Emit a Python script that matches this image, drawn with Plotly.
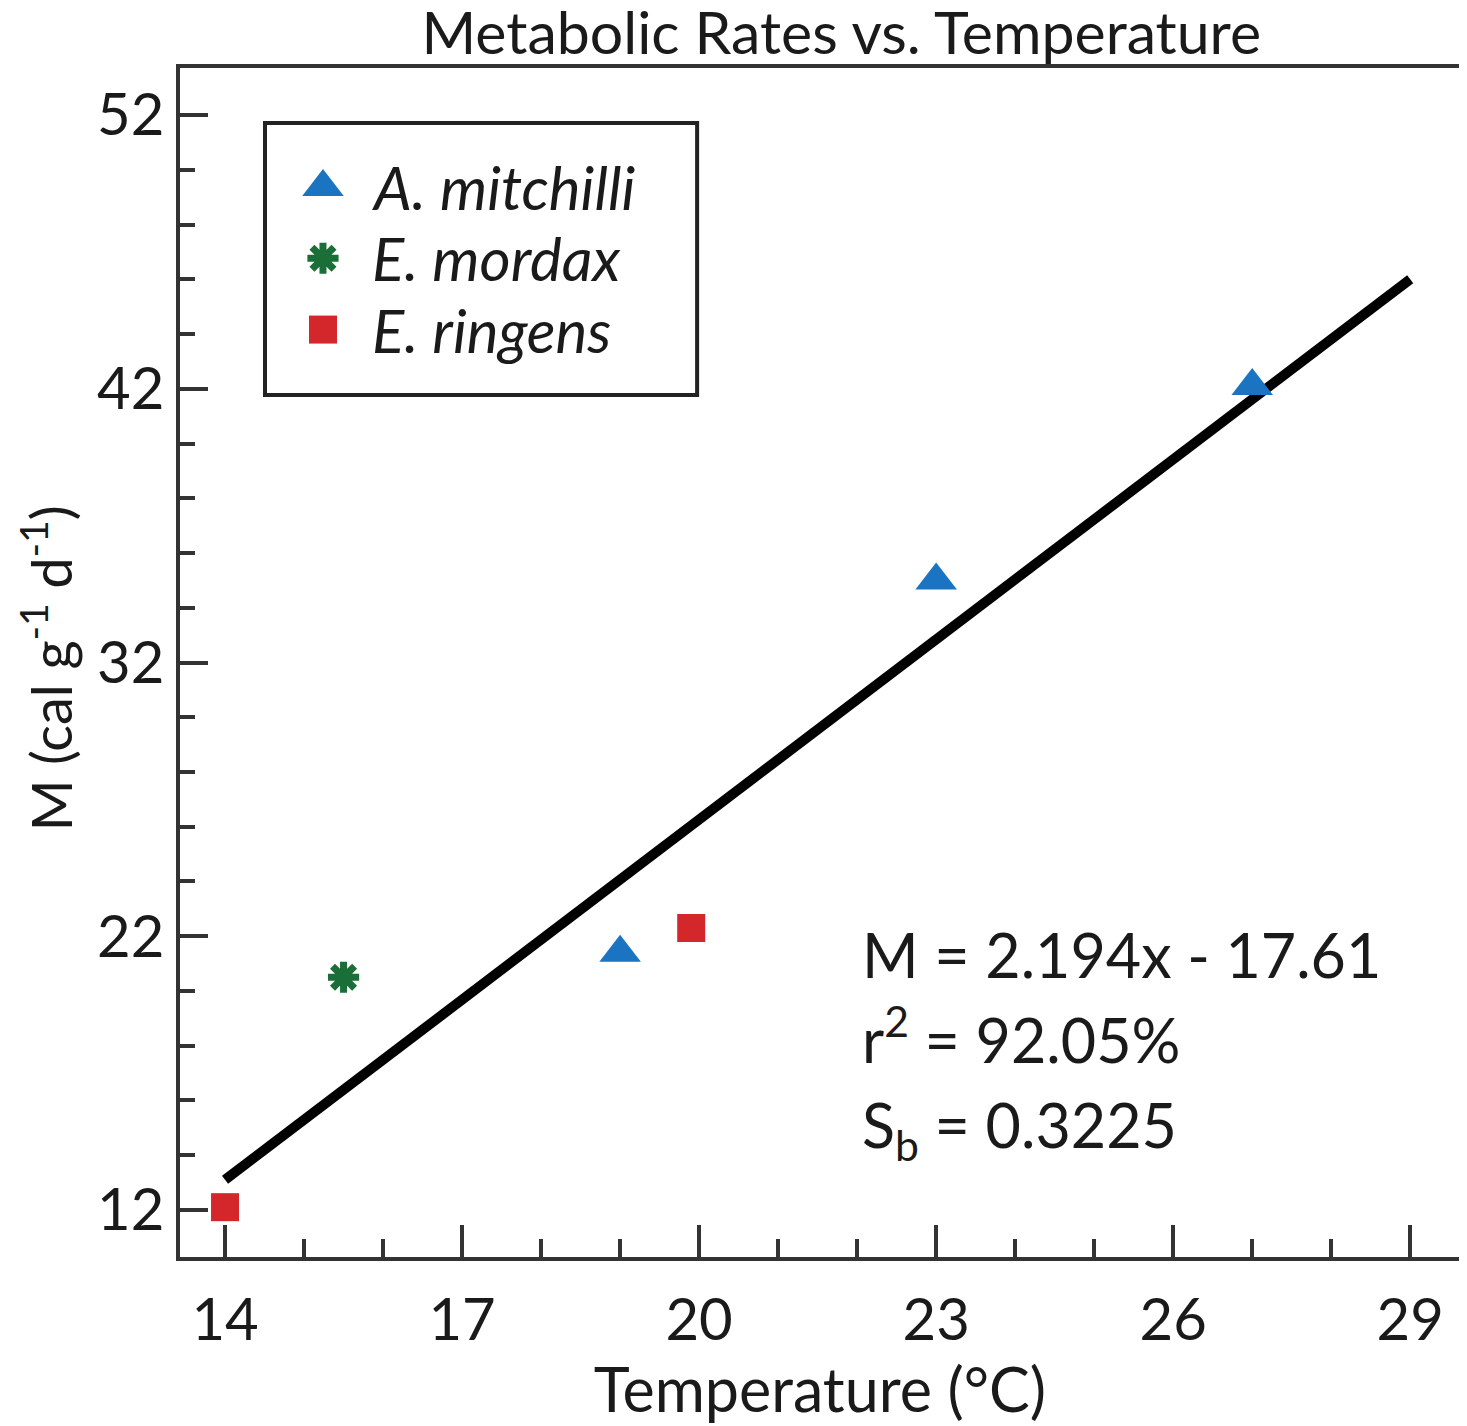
import plotly.graph_objects as go

# species measurements (temperature in degC, metabolic rate in cal g-1 d-1)
mitchilli_x = [19, 23, 27]
mitchilli_y = [21.4, 35.0, 42.1]
mordax_x = [15.5]
mordax_y = [20.5]
ringens_x = [14, 19.9]
ringens_y = [12.1, 22.3]

# regression line end points
fit_x = [14, 29]
fit_y = [13.1, 46.0]

x_ticks = [14, 17, 20, 23, 26, 29]
y_ticks = [12, 22, 32, 42, 52]

species = ["A. mitchilli", "E. mordax", "E. ringens"]
stats_lines = ["M = 2.194x - 17.61", "r<sup>2</sup> = 92.05%", "S<sub>b</sub> = 0.3225"]

FONT = "Lato"
TEXT = "#1a1a1a"
AXIS = "#333333"

styles = [
    dict(symbol="triangle-up", size=36, color="#1b74c1"),
    dict(symbol="asterisk", size=26, line=dict(color="#1a6e38", width=7)),
    dict(symbol="square", size=28, color="#d3272c"),
]

fig = go.Figure()

fig.add_trace(go.Scatter(x=fit_x, y=fit_y, mode="lines",
                         line=dict(color="black", width=10),
                         showlegend=False, hoverinfo="skip"))

for name, xs, ys, st in zip(species, [mitchilli_x, mordax_x, ringens_x],
                            [mitchilli_y, mordax_y, ringens_y], styles):
    fig.add_trace(go.Scatter(x=xs, y=ys, mode="markers", name=name,
                             marker=st, showlegend=False))

# hand-made legend box (plotly caps legend symbol sizes)
leg_x0, leg_x1, leg_y0, leg_y1 = 0.0664, 0.404, 0.725, 0.9537
leg_rows = [0.900, 0.840, 0.780]
fig.add_shape(type="rect", xref="paper", yref="paper",
              x0=leg_x0, x1=leg_x1, y0=leg_y0, y1=leg_y1,
              line=dict(color="#222222", width=4), fillcolor="white", layer="below")
for name, row, st in zip(species, leg_rows, styles):
    fig.add_trace(go.Scatter(x=[0.1117], y=[row], mode="markers", marker=st,
                             xaxis="x2", yaxis="y2", showlegend=False, hoverinfo="skip"))
    fig.add_annotation(xref="paper", yref="paper", x=0.1484, y=row,
                       xanchor="left", yanchor="middle", showarrow=False,
                       text=f"<i>{name}</i>",
                       font=dict(family=FONT, size=60, color=TEXT))

# regression statistics, one line each
for line, ypos in zip(stats_lines, [0.254, 0.1867, 0.108]):
    fig.add_annotation(xref="paper", yref="paper", x=0.531, y=ypos,
                       xanchor="left", yanchor="middle", showarrow=False,
                       text=line, font=dict(family=FONT, size=61, color=TEXT))

# y axis title as a rotated annotation so its position can be set exactly
fig.add_annotation(xref="paper", yref="paper", x=-0.104, y=0.495,
                   xanchor="center", yanchor="middle", showarrow=False,
                   textangle=-90, text="M (cal g<sup>-1</sup> d<sup>-1</sup>)",
                   font=dict(family=FONT, size=56, color=TEXT))

axis_common = dict(
    showline=True, linecolor=AXIS, linewidth=4, mirror=True,
    ticks="inside", tickcolor=AXIS, tickwidth=4,
    showgrid=False, zeroline=False,
    tickfont=dict(family=FONT, size=58, color=TEXT),
)

fig.update_xaxes(
    range=[13.43, 29.63], tickvals=x_ticks, ticklen=32, ticklabelstandoff=9,
    minor=dict(dtick=1, tick0=14, ticks="inside", ticklen=18,
               tickcolor=AXIS, tickwidth=4, showgrid=False),
    title=dict(text="Temperature (°C)", font=dict(family=FONT, size=61, color=TEXT),
               standoff=0),
    **axis_common,
)
fig.update_yaxes(
    range=[10.28, 53.72], tickvals=y_ticks, ticklen=28,
    minor=dict(dtick=2, tick0=12, ticks="inside", ticklen=15,
               tickcolor=AXIS, tickwidth=4, showgrid=False),
    **axis_common,
)

fig.update_layout(
    width=1467, height=1426,
    margin=dict(l=172, r=15, t=60, b=177),
    paper_bgcolor="white", plot_bgcolor="white",
    xaxis2=dict(overlaying="x", range=[0, 1], visible=False),
    yaxis2=dict(overlaying="y", range=[0, 1], visible=False),
    title=dict(text="Metabolic Rates vs. Temperature", x=0.568, xref="container",
               xanchor="center", y=0.9965, yref="container", yanchor="top",
               pad=dict(t=0, b=0),
               font=dict(family=FONT, size=59, color=TEXT)),
    showlegend=False,
)

fig.write_html("out.html")
